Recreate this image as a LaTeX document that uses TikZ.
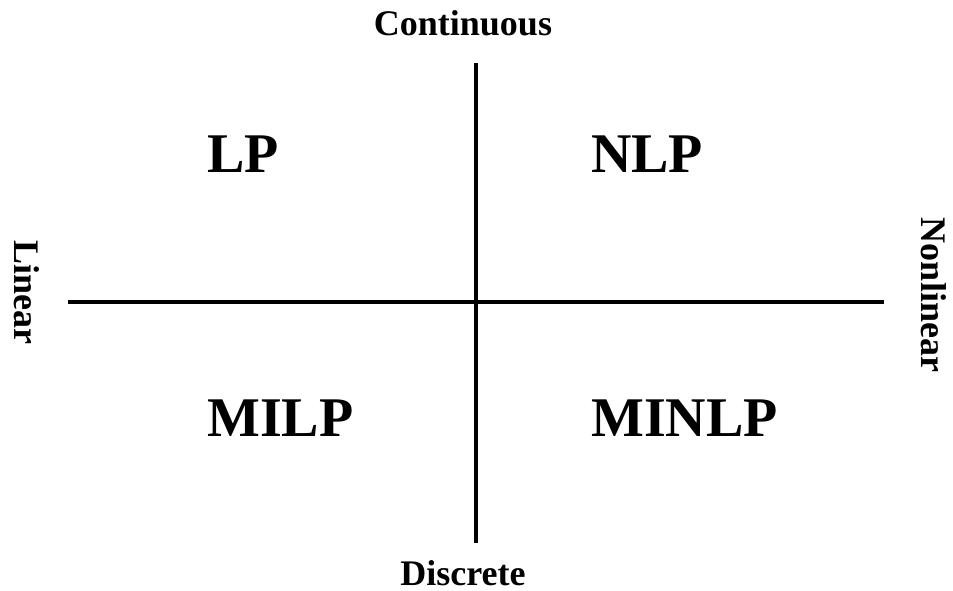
\documentclass[tikz,border=0pt]{standalone}
\usepackage{fontspec}
\setmainfont{Liberation Serif}
\begin{document}
\begin{tikzpicture}[x=1pt,y=-1pt,
  axislabel/.style={font=\bfseries\fontsize{36}{40}\selectfont, inner sep=0pt},
  classlabel/.style={font=\bfseries\fontsize{56}{60}\selectfont, inner sep=0pt, anchor=base west},
  axisline/.style={line width=4.8pt}]
\useasboundingbox (0,0) rectangle (953,591);
\coordinate (top) at (476,63);
\coordinate (bottom) at (476,543);
\coordinate (left) at (68,302);
\coordinate (right) at (884,302);
\draw[axisline] (top) -- (bottom);
\draw[axisline] (left) -- (right);
\node[axislabel, anchor=base] (cont) at (463,36) {Continuous};
\node[axislabel, anchor=base] (disc) at (463,585) {Discrete};
\node[axislabel, anchor=base, rotate=-90] (lin) at (14,292) {Linear};
\node[axislabel, anchor=base, rotate=-90] (nonlin) at (921,295) {Nonlinear};
\node[classlabel] (lp) at (207,172) {LP};
\node[classlabel] (nlp) at (591,172) {NLP};
\node[classlabel] (milp) at (207,436) {MILP};
\node[classlabel] (minlp) at (591,436) {MINLP};
\end{tikzpicture}
\end{document}
